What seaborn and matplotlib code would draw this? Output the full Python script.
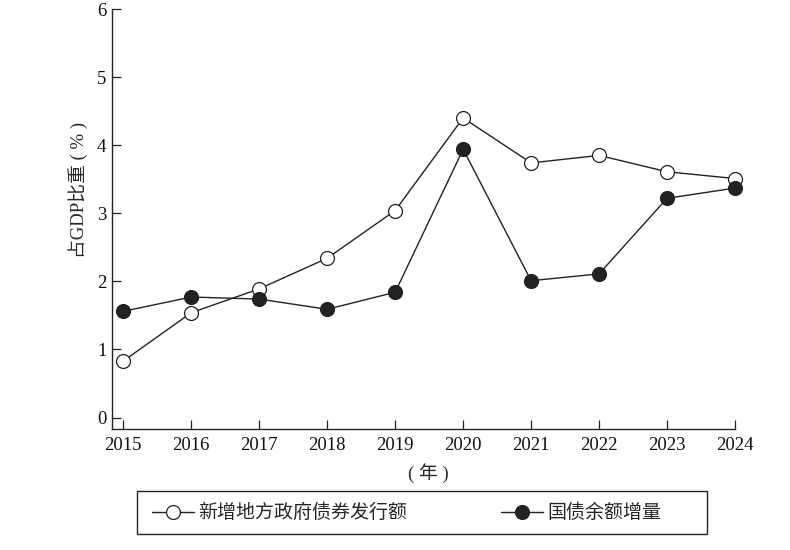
import pandas as pd
import seaborn as sns
import matplotlib.pyplot as plt
from matplotlib.patches import Rectangle

years = [2015, 2016, 2017, 2018, 2019, 2020, 2021, 2022, 2023, 2024]
local_bonds = [0.83, 1.54, 1.89, 2.34, 3.04, 4.40, 3.74, 3.85, 3.61, 3.51]
treasury_inc = [1.56, 1.77, 1.74, 1.59, 1.84, 3.94, 2.01, 2.11, 3.22, 3.37]
series_names = ["新增地方政府债券发行额", "国债余额增量"]

sns.set_style("ticks")
plt.rcParams["font.family"] = ["Liberation Serif", "Noto Sans CJK SC"]
plt.rcParams["axes.unicode_minus"] = False

df = pd.DataFrame({"year": years, "local": local_bonds, "treasury": treasury_inc})

W, H = 790, 550
fig = plt.figure(figsize=(7.9, 5.5), dpi=100)
ax = fig.add_axes([112 / W, 1 - 429 / H, 623 / W, 420 / H])

ink = "#222222"
sns.lineplot(data=df, x="year", y="local", ax=ax, color=ink, lw=1.0,
             marker="o", markersize=10, markerfacecolor="white",
             markeredgecolor=ink, markeredgewidth=0.9, label=series_names[0],
             clip_on=False, zorder=3)
sns.lineplot(data=df, x="year", y="treasury", ax=ax, color=ink, lw=1.0,
             marker="o", markersize=10, markerfacecolor=ink,
             markeredgecolor=ink, markeredgewidth=0.9, label=series_names[1],
             clip_on=False, zorder=4)

ax.set_xlim(2014.834, 2024)
ax.set_ylim(-0.168, 6)
ax.set_xticks(years)
ax.set_yticks(range(0, 7))
ax.tick_params(direction="in", length=6.5, width=0.9, colors=ink,
               labelsize=13.5, labelcolor="#111111")
ax.tick_params(axis="x", pad=6)
ax.tick_params(axis="y", pad=4)

for side in ["top", "right"]:
    ax.spines[side].set_visible(False)
for side in ["left", "bottom"]:
    ax.spines[side].set_linewidth(1.0)
    ax.spines[side].set_color(ink)

ax.set_xlabel("( 年 )", fontsize=13.5)
ax.set_ylabel("占GDP比重 ( % )", fontsize=13.5)
ax.xaxis.set_label_coords((428 - 112) / 623, (429 - 473) / 420)
ax.yaxis.set_label_coords((78 - 112) / 623, (429 - 190) / 420)
ax.xaxis.label.set_va("center")
ax.yaxis.label.set_va("center")

# legend content, then the wide box around it
leg = ax.legend(loc="center left", bbox_to_anchor=(152 / W, 1 - 513 / H),
                bbox_transform=fig.transFigure, ncol=2, fontsize=13.7,
                frameon=False, handlelength=2.2, handletextpad=0.25,
                columnspacing=4.9, borderpad=0, borderaxespad=0)
fig.patches.append(Rectangle((137 / W, 1 - 534 / H), 570 / W, 43 / H,
                             transform=fig.transFigure, fill=False,
                             edgecolor=ink, linewidth=1.0))

fig.savefig("out.png", dpi=100)
